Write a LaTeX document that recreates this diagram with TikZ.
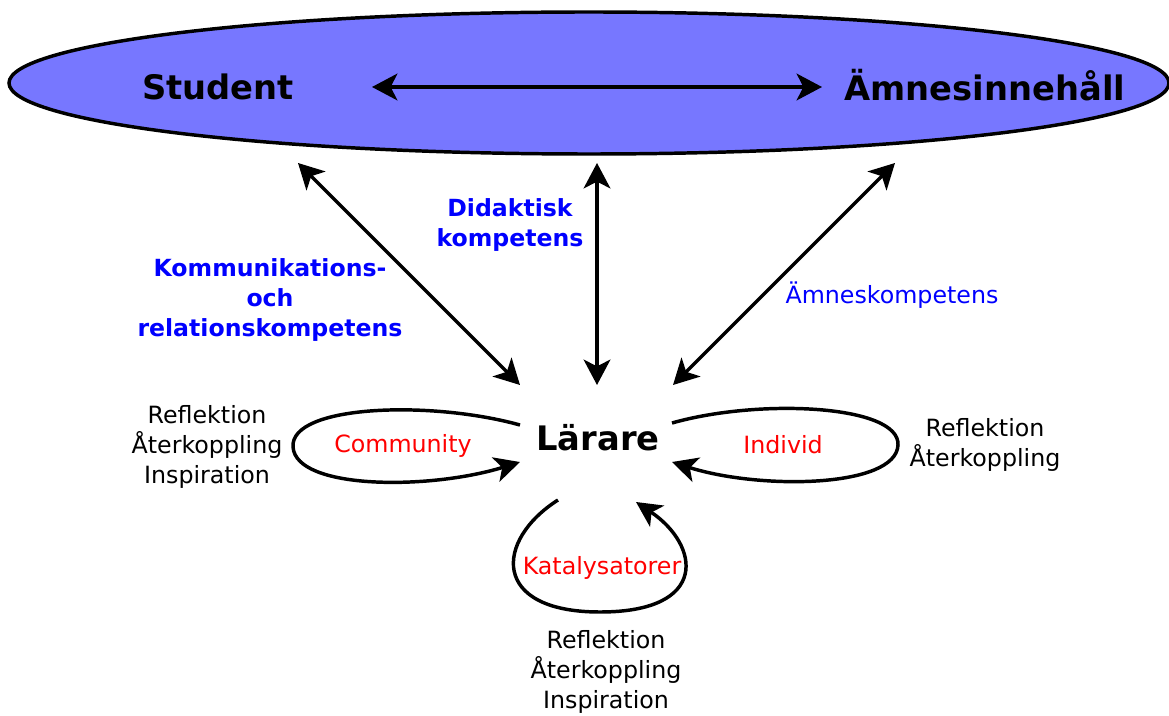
\documentclass[tikz,border=0pt]{standalone}
\usepackage{fontspec}
\setmainfont{DejaVu Sans}
\usetikzlibrary{arrows.meta}
\definecolor{ellfill}{RGB}{119,119,255}
\tikzset{
  conn/.style={line width=2.6pt, {Stealth[length=19pt,width=20pt,inset=5pt]}-{Stealth[length=19pt,width=20pt,inset=5pt]}},
  loop/.style={line width=2.6pt, -{Stealth[length=19pt,width=19pt,inset=5pt]}},
  big/.style={font=\fontsize{25.3}{30}\selectfont\bfseries},
  comp/.style={font=\fontsize{17.7}{22.5}\selectfont\bfseries, text=blue, align=center, inner sep=0pt},
  plain/.style={font=\fontsize{17.8}{22.5}\selectfont, align=center, inner sep=0pt},
  redlab/.style={font=\fontsize{17.8}{22.5}\selectfont, text=red, inner sep=0pt},
}
\begin{document}
\begin{tikzpicture}[x=0.75pt,y=-0.75pt]
\useasboundingbox (0,0) rectangle (1169,716);
\draw[line width=2.6pt, fill=ellfill] (589,83) ellipse [x radius=580, y radius=71];
\node[big, inner sep=0pt] (student) at (218,87) {Student};
\node[big, inner sep=0pt] (amne) at (985,85) {Ämnesinnehåll};
\node[big, inner sep=0pt] (larare) at (598,438) {Lärare};
% arrow endpoints
\coordinate (sa) at (372,87);
\coordinate (sb) at (822,87);
\coordinate (l1) at (298,163);
\coordinate (l2) at (520,385);
\coordinate (c1) at (597,163);
\coordinate (c2) at (597,385);
\coordinate (r1) at (895,163);
\coordinate (r2) at (673,385);
\draw[conn] (sa) -- (sb);
\draw[conn] (l1) -- (l2);
\draw[conn] (c1) -- (c2);
\draw[conn] (r1) -- (r2);
% labels
\node[comp] (didak) at (510,225) {Didaktisk\\kompetens};
\node[comp] (komm) at (270,300) {Kommunikations-\\och\\relationskompetens};
\node[plain, text=blue] (amnekomp) at (892,295) {Ämneskompetens};
% loops
\coordinate (cs) at (520,425);
\coordinate (ce) at (520,462);
\coordinate (is) at (672,423);
\coordinate (ie) at (672,462);
\coordinate (ks) at (558,500);
\coordinate (ke) at (636,502);
\draw[loop] (cs) .. controls (430,400) and (290,405) .. (293,447) .. controls (296,490) and (430,490) .. (ce);
\draw[loop] (is) .. controls (760,398) and (900,405) .. (898,445) .. controls (896,488) and (760,490) .. (ie);
\draw[loop] (ks) .. controls (495,540) and (490,612) .. (600,612) .. controls (710,612) and (700,545) .. (ke);
\node[redlab] (comm) at (403,446) {Community};
\node[redlab] (indiv) at (783,445) {Individ};
\node[redlab] (kata) at (602,568) {Katalysatorer};
\node[plain] (refl) at (207,447) {Reflektion\\Återkoppling\\Inspiration};
\node[plain] (refr) at (985,445) {Reflektion\\Återkoppling};
\node[plain] (refb) at (606,672) {Reflektion\\Återkoppling\\Inspiration};
\end{tikzpicture}
\end{document}
